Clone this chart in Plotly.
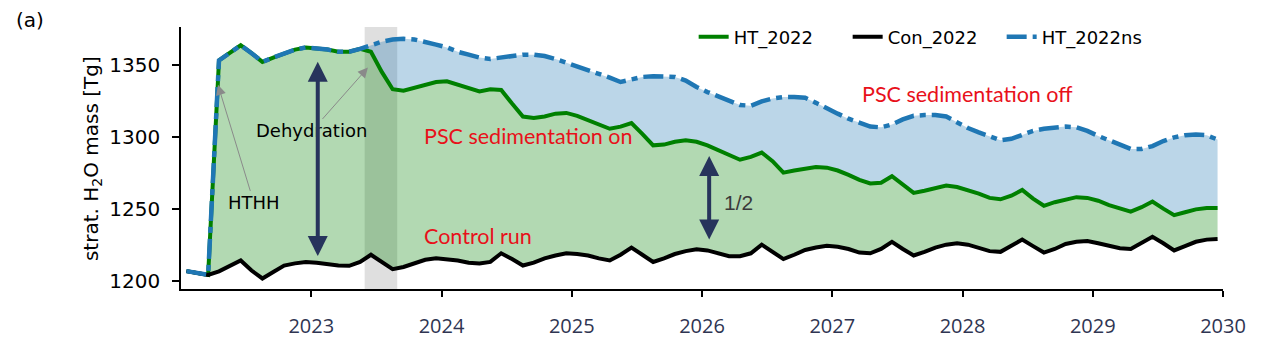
import plotly.graph_objects as go

# ---- data (monthly means, Jan 2022 - Dec 2029) ----
month_index = list(range(96))

con_2022 = [1206.6, 1205, 1204, 1206.5, 1210, 1214, 1207, 1201.5, 1206, 1210.5, 1212, 1213,
            1212.5, 1211.5, 1210.5, 1210.3, 1213, 1218, 1213, 1208, 1209.5, 1212, 1214.5, 1215.5,
            1215, 1214, 1212.5, 1212, 1213, 1219, 1215, 1210.5, 1212.5, 1215.5, 1217.5, 1219,
            1218.5, 1217.5, 1215.5, 1214, 1218, 1223, 1218, 1213, 1215.5, 1218.5, 1220.5, 1221.8,
            1221, 1219, 1217, 1217, 1219, 1225, 1220, 1215, 1218, 1221.3, 1223, 1224.3,
            1223.5, 1222, 1219.5, 1219, 1222, 1227, 1222, 1217.5, 1220, 1223, 1225, 1226,
            1225, 1223, 1220.5, 1220, 1224, 1228.5, 1224, 1219.5, 1222, 1225.5, 1227, 1227.5,
            1226, 1224, 1222.5, 1222, 1226, 1230.5, 1226, 1221, 1224, 1227, 1228.5, 1229]

ht_2022 = [1206.6, 1205, 1204, 1353, 1358, 1363.5, 1358, 1352, 1355, 1358, 1360.5, 1362,
           1361.5, 1360.5, 1359, 1359, 1361, 1359, 1345, 1333, 1332, 1334, 1336.5, 1338,
           1338.5, 1336, 1334, 1331.5, 1333, 1332.5, 1323, 1314, 1313, 1314, 1316, 1316.5,
           1314.5, 1311.5, 1308.5, 1305.5, 1307, 1309.5, 1302, 1294, 1294.5, 1296.5, 1297.5, 1296.5,
           1294, 1290.5, 1287, 1284, 1286, 1289, 1283, 1275, 1276.5, 1278, 1279, 1278.5,
           1276.5, 1273.5, 1270, 1267.5, 1268, 1272.5, 1267, 1261, 1262.5, 1264.5, 1266, 1265,
           1263, 1260.5, 1257.5, 1256.5, 1259, 1263, 1257, 1252, 1254.5, 1256.5, 1258, 1257.5,
           1255.5, 1252.5, 1250, 1248, 1251, 1255, 1250, 1245.5, 1247.5, 1249.5, 1250.5, 1250.5]

ht_2022ns = [1206.6, 1205, 1204, 1353, 1358, 1363.5, 1358, 1352, 1355, 1358, 1360.5, 1362,
             1361.5, 1360.5, 1359, 1359, 1361, 1363.5, 1366, 1367.5, 1368, 1367.5, 1366, 1364,
             1362, 1359, 1357, 1355, 1354, 1355, 1356, 1357, 1357, 1356, 1354, 1351.5,
             1348.5, 1346.5, 1344, 1341, 1338, 1340, 1341.5, 1342, 1342, 1341.5, 1339, 1334.5,
             1331, 1328, 1325, 1322, 1321.5, 1324.5, 1326.5, 1327.5, 1327.5, 1327, 1323.5, 1319.5,
             1316, 1312.5, 1309.5, 1307, 1306.5, 1308.5, 1312, 1314.5, 1315, 1315, 1314, 1310,
             1306, 1303, 1300, 1297.5, 1298.5, 1301.5, 1304, 1305.5, 1306.5, 1307, 1306.5, 1304,
             1300.5, 1297.5, 1294.5, 1291.5, 1291.5, 1293.5, 1297, 1299.5, 1301, 1301.5, 1301, 1298]

year_ticks = [2023, 2024, 2025, 2026, 2027, 2028, 2029, 2030]
year_labels = ["2023", "2024", "2025", "2026", "2027", "2028", "2029", "2030"]
y_ticks = [1200, 1250, 1300, 1350]

t = [2022 + (m + 0.5) / 12 for m in month_index]

GREEN = "#008000"
BLUE = "#1f77b4"
NAVY = "#27345c"
RED = "#e8101a"

fig = go.Figure()

# fills
fig.add_trace(go.Scatter(x=t, y=con_2022, mode="lines", line=dict(width=0),
                         showlegend=False, hoverinfo="skip"))
fig.add_trace(go.Scatter(x=t, y=ht_2022, mode="lines", line=dict(width=0),
                         fill="tonexty", fillcolor="rgba(0,128,0,0.3)",
                         showlegend=False, hoverinfo="skip"))
fig.add_trace(go.Scatter(x=t, y=ht_2022ns, mode="lines", line=dict(width=0),
                         fill="tonexty", fillcolor="rgba(31,119,180,0.3)",
                         showlegend=False, hoverinfo="skip"))

# lines
fig.add_trace(go.Scatter(x=t, y=ht_2022, mode="lines", name="HT_2022",
                         line=dict(color=GREEN, width=4)))
fig.add_trace(go.Scatter(x=t, y=con_2022, mode="lines", name="Con_2022",
                         line=dict(color="black", width=4)))
fig.add_trace(go.Scatter(x=t, y=ht_2022ns, mode="lines", name="HT_2022ns",
                         line=dict(color=BLUE, width=4.5, dash="20px,6px,6px,6px")))

# grey shading (dehydration period)
fig.add_vrect(x0=2023.41, x1=2023.66, fillcolor="rgba(128,128,128,0.25)",
              line_width=0, layer="below")

ann_font = dict(family="DejaVu Sans", size=18, color="black")
red_font = dict(family="Lato", size=21.5, color=RED)

# thin grey pointer arrows with labels
fig.add_annotation(x=2022.284, y=1336, ax=2022.56, ay=1254, axref="x", ayref="y",
                   text="HTHH", font=ann_font, showarrow=True, arrowhead=2,
                   arrowsize=2, arrowwidth=1, arrowcolor="#8a8a8a")
fig.add_annotation(x=2023.435, y=1348, ax=2023.005, ay=1304, axref="x", ayref="y",
                   text="Dehydration", font=ann_font, showarrow=True, arrowhead=2,
                   arrowsize=2, arrowwidth=1, arrowcolor="#8a8a8a")

# red labels
fig.add_annotation(x=2023.85, y=1300.5, text="PSC sedimentation on", showarrow=False,
                   font=red_font, xanchor="left")
fig.add_annotation(x=2023.85, y=1231, text="Control run", showarrow=False,
                   font=red_font, xanchor="left")
fig.add_annotation(x=2027.215, y=1330, text="PSC sedimentation off", showarrow=False,
                   font=red_font, xanchor="left")

# navy double arrows
fig.add_annotation(x=2023.05, y=1352, ax=2023.05, ay=1216, axref="x", ayref="y",
                   text="", showarrow=True, arrowside="end+start", arrowhead=2,
                   arrowsize=1, arrowwidth=4, arrowcolor=NAVY, standoff=0, startstandoff=0)
fig.add_annotation(x=2026.055, y=1286.6, ax=2026.055, ay=1227.5, axref="x", ayref="y",
                   text="", showarrow=True, arrowside="end+start", arrowhead=2,
                   arrowsize=1, arrowwidth=4, arrowcolor=NAVY, standoff=0, startstandoff=0)
fig.add_annotation(x=2026.155, y=1254.5, text="1/2", showarrow=False, xanchor="left",
                   font=dict(family="Liberation Sans", size=21, color="#3a3a3a"))

# panel label and y title
fig.add_annotation(xref="paper", yref="paper", x=-0.145, y=1.027, text="(a)",
                   xanchor="center", yanchor="middle",
                   showarrow=False, font=dict(family="DejaVu Sans", size=20, color="black"))
fig.add_annotation(xref="paper", yref="paper", x=-0.0854, y=0.496,
                   xanchor="center", yanchor="middle",
                   text="strat. H<sub>2</sub>O mass [Tg]", textangle=-90, showarrow=False,
                   font=dict(family="DejaVu Sans", size=20, color="black"))

fig.update_layout(
    width=1269, height=351,
    margin=dict(l=181, r=46, t=27, b=60),
    paper_bgcolor="white", plot_bgcolor="white",
    legend=dict(orientation="h", x=0.492, y=0.962, xanchor="left", yanchor="middle",
                traceorder="normal", entrywidth=109, entrywidthmode="pixels",
                font=dict(family="DejaVu Sans", size=18, color="black"),
                bgcolor="rgba(0,0,0,0)"),
    xaxis=dict(range=[2022, 2030], tickvals=year_ticks, ticktext=year_labels,
               showgrid=False, zeroline=False, showline=True, linecolor="black",
               linewidth=1.5, ticks="outside", ticklen=6, tickwidth=1.5, tickcolor="black",
               ticklabelstandoff=12,
               tickfont=dict(family="Open Sans", size=20, color="#2f3552")),
    yaxis=dict(range=[1194.2, 1376.2], tickvals=y_ticks,
               showgrid=False, zeroline=False, showline=True, linecolor="black",
               linewidth=1.5, ticks="outside", ticklen=7, tickwidth=1.5, tickcolor="black",
               ticklabelstandoff=8,
               tickfont=dict(family="DejaVu Sans", size=20, color="black")),
)

fig.write_html("out.html")
